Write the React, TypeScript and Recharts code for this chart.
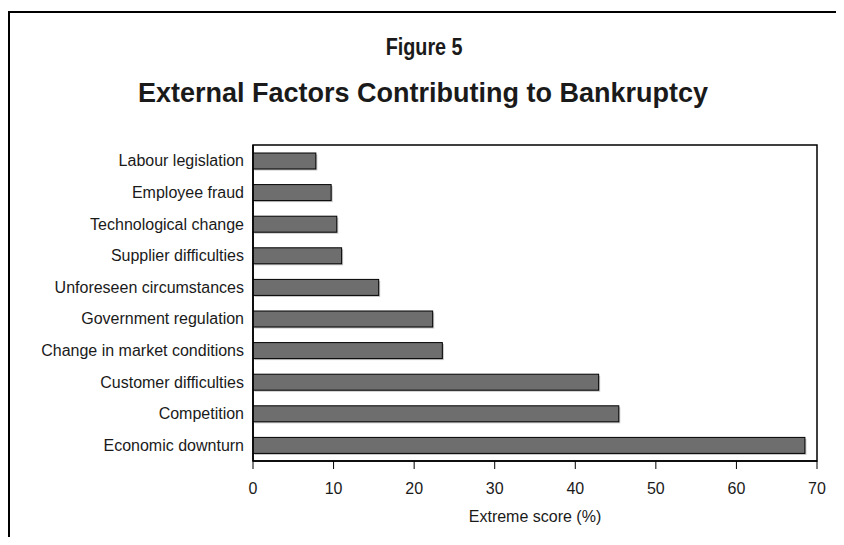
import React from 'react';
import { BarChart, Bar, XAxis, YAxis, ReferenceArea } from 'recharts';

const categories = [
  'Labour legislation',
  'Employee fraud',
  'Technological change',
  'Supplier difficulties',
  'Unforeseen circumstances',
  'Government regulation',
  'Change in market conditions',
  'Customer difficulties',
  'Competition',
  'Economic downturn',
];
const values = [7.8, 9.7, 10.4, 11.0, 15.6, 22.3, 23.5, 42.9, 45.4, 68.5];
const xTicks = [0, 10, 20, 30, 40, 50, 60, 70];

const data = categories.map((name, i) => ({ name, value: values[i] }));

const SANS = '"Liberation Sans", Arial, sans-serif';

const ShadowBar = (props: any) => {
  const { x, y, width, height } = props;
  if (width <= 0) return null;
  return (
    <g>
      <rect x={x + 1.5} y={y + 1.5} width={width} height={height} fill="#c4c4c4" />
      <rect x={x} y={y} width={width} height={height} fill="#6e6e6e" stroke="#000" strokeWidth={1} />
    </g>
  );
};

export default function App() {
  return (
    <div style={{ position: 'relative', width: 836, height: 537, marginBottom: -8, background: '#fff', overflow: 'hidden' }}>
      <div style={{ position: 'absolute', left: 0, top: 3, width: 836, height: 1.5, background: '#000' }} />
      <div style={{ position: 'absolute', left: 0, top: 3, width: 1.5, height: 534, background: '#000' }} />
      <div style={{ position: 'absolute', left: 0, width: 830, top: 26, textAlign: 'center', fontFamily: SANS, fontWeight: 'bold', fontSize: 23, color: '#1a1a1a', transform: 'scaleX(0.86)', transformOrigin: '423px 0' }}>Figure 5</div>
      <div style={{ position: 'absolute', left: 0, width: 830, top: 70, textAlign: 'center', fontFamily: SANS, fontWeight: 'bold', fontSize: 27, color: '#1a1a1a' }}>External Factors Contributing to Bankruptcy</div>
      <div style={{ position: 'absolute', left: 0, top: 0 }}>
        <BarChart
          width={836}
          height={537}
          data={data}
          layout="vertical"
          margin={{ top: 137, right: 27, bottom: 54, left: 0 }}
          barSize={16}
        >
          <XAxis
            type="number"
            domain={[0, 70]}
            ticks={xTicks}
            height={30}
            tickSize={8}
            tickMargin={14}
            axisLine={{ stroke: '#000', strokeWidth: 1.5 }}
            tickLine={{ stroke: '#000' }}
            tick={{ fill: '#1a1a1a', fontSize: 16, fontFamily: SANS }}
            allowDataOverflow
          />
          <YAxis
            type="category"
            dataKey="name"
            width={245}
            tickLine={false}
            tickSize={0}
            tickMargin={9}
            axisLine={{ stroke: '#000', strokeWidth: 1.5 }}
            tick={{ fill: '#1a1a1a', fontSize: 16, fontFamily: SANS }}
            interval={0}
          />
          <ReferenceArea x1={0} x2={70} fill="none" stroke="#000" strokeWidth={1.5} fillOpacity={0} ifOverflow="visible" />
          <Bar dataKey="value" shape={<ShadowBar />} isAnimationActive={false} />
        </BarChart>
      </div>
      <div style={{ position: 'absolute', left: 245, width: 564, top: 500, textAlign: 'center', fontFamily: SANS, fontSize: 16, color: '#1a1a1a' }}>Extreme score (%)</div>
    </div>
  );
}
